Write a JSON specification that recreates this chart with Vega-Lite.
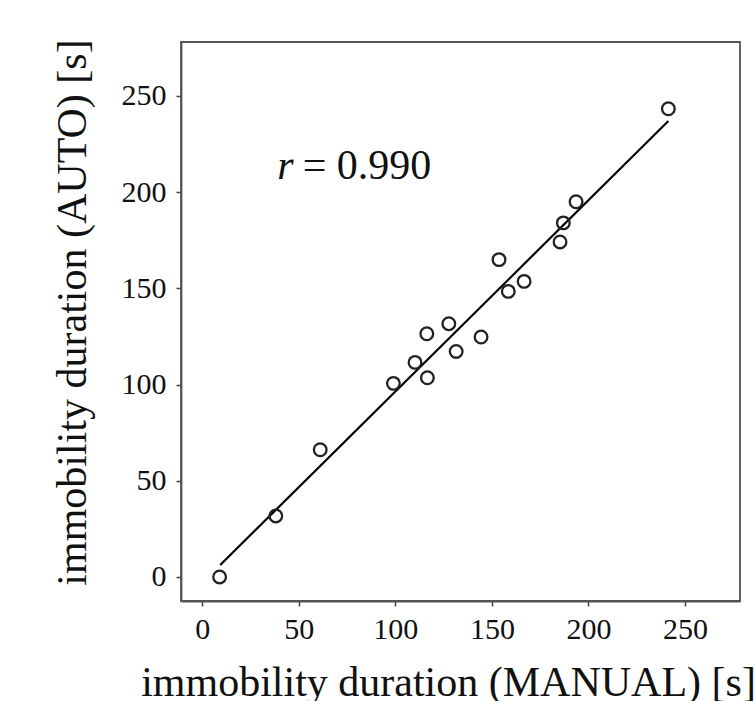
{
  "$schema": "https://vega.github.io/schema/vega-lite/v6.json",
  "width": 559,
  "height": 559,
  "autosize": "none",
  "padding": {"left": 181, "top": 42, "right": 15, "bottom": 100},
  "background": "white",
  "config": {
    "view": {"stroke": "#555555", "strokeWidth": 1.8},
    "font": "Liberation Serif",
    "axis": {
      "grid": false,
      "domainColor": "#555555",
      "domainWidth": 1.8,
      "tickColor": "#444444",
      "tickSize": 5,
      "tickWidth": 1.5,
      "labelFont": "Liberation Serif",
      "labelFontSize": 30,
      "labelColor": "#111111",
      "titleFont": "Liberation Serif",
      "titleFontSize": 42,
      "titleFontWeight": "normal",
      "titleColor": "#111111"
    }
  },
  "datasets": {
    "points": [
      {"manual": 9.0, "auto": 0.0},
      {"manual": 38.1, "auto": 31.7},
      {"manual": 61.1, "auto": 66.1},
      {"manual": 99.0, "auto": 100.6},
      {"manual": 110.2, "auto": 111.5},
      {"manual": 116.6, "auto": 103.5},
      {"manual": 116.3, "auto": 126.4},
      {"manual": 127.7, "auto": 131.6},
      {"manual": 131.5, "auto": 117.2},
      {"manual": 144.4, "auto": 124.7},
      {"manual": 153.7, "auto": 164.9},
      {"manual": 158.5, "auto": 148.4},
      {"manual": 166.7, "auto": 153.6},
      {"manual": 185.3, "auto": 174.1},
      {"manual": 187.0, "auto": 184.0},
      {"manual": 193.6, "auto": 195.0},
      {"manual": 241.4, "auto": 243.3}
    ],
    "fit": [
      {"manual": 9.3, "auto": 6.2},
      {"manual": 241.4, "auto": 236.9}
    ],
    "labelR": [
      {"manual": 38.8, "auto": 206.6, "part": "r"}
    ],
    "labelV": [
      {"manual": 52.0, "auto": 206.6, "part": "= 0.990"}
    ]
  },
  "layer": [
    {
      "data": {"name": "fit"},
      "mark": {"type": "line", "color": "#000000", "strokeWidth": 2.2},
      "encoding": {
        "x": {"field": "manual", "type": "quantitative", "scale": {"domain": [-11, 278.5], "nice": false, "zero": false},
              "axis": {"values": [0, 50, 100, 150, 200, 250], "title": "immobility duration (MANUAL) [s]", "labelPadding": 8, "titlePadding": 18, "titleX": 267}},
        "y": {"field": "auto", "type": "quantitative", "scale": {"domain": [-12.5, 278], "nice": false, "zero": false},
              "axis": {"values": [0, 50, 100, 150, 200, 250], "title": "immobility duration (AUTO) [s]", "labelPadding": 10, "titlePadding": 27, "titleY": 270}}
      }
    },
    {
      "data": {"name": "points"},
      "mark": {"type": "point", "shape": "circle", "filled": false, "color": "#222222", "opacity": 1, "strokeWidth": 2.3, "size": 160},
      "encoding": {
        "x": {"field": "manual", "type": "quantitative"},
        "y": {"field": "auto", "type": "quantitative"}
      }
    },
    {
      "data": {"name": "labelR"},
      "mark": {"type": "text", "align": "left", "baseline": "alphabetic", "fontSize": 42, "fontStyle": "italic", "font": "Liberation Serif", "color": "#111111"},
      "encoding": {
        "x": {"field": "manual", "type": "quantitative"},
        "y": {"field": "auto", "type": "quantitative"},
        "text": {"field": "part"}
      }
    },
    {
      "data": {"name": "labelV"},
      "mark": {"type": "text", "align": "left", "baseline": "alphabetic", "fontSize": 42, "font": "Liberation Serif", "color": "#111111"},
      "encoding": {
        "x": {"field": "manual", "type": "quantitative"},
        "y": {"field": "auto", "type": "quantitative"},
        "text": {"field": "part"}
      }
    }
  ]
}
